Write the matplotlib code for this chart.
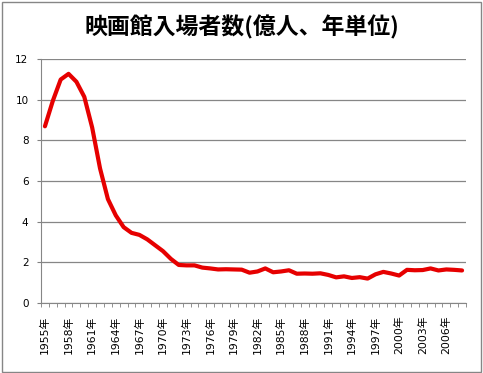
import matplotlib
matplotlib.use("Agg")
import matplotlib.pyplot as plt
from matplotlib.patches import Rectangle

# 映画館入場者数 (億人)
years = list(range(1955, 2009))
attendance = [8.69, 9.94, 10.99, 11.27, 10.88, 10.14, 8.63, 6.62, 5.11, 4.31,
              3.73, 3.45, 3.35, 3.13, 2.84, 2.55, 2.17, 1.87, 1.85, 1.85,
              1.74, 1.70, 1.65, 1.66, 1.65, 1.64, 1.49, 1.55, 1.70, 1.51,
              1.55, 1.61, 1.44, 1.45, 1.44, 1.46, 1.38, 1.26, 1.31, 1.23,
              1.27, 1.20, 1.41, 1.53, 1.45, 1.35, 1.63, 1.61, 1.62, 1.70,
              1.60, 1.65, 1.63, 1.60]
title = "映画館入場者数(億人、年単位)"

plt.rcParams['font.family'] = ['DejaVu Sans', 'Noto Sans CJK JP']

fig = plt.figure(figsize=(4.83, 3.73), dpi=100)
ax = fig.add_axes([0.0849, 0.1877, 0.8799, 0.6541])

x = list(range(len(years)))
ax.plot(x, attendance, color='#e60000', linewidth=3.0,
        solid_joinstyle='round', solid_capstyle='round', zorder=3)

ax.set_xlim(-0.5, len(years) - 0.5)
ax.set_ylim(0, 12)
ax.set_yticks(range(0, 13, 2))
ax.tick_params(axis='y', labelsize=7.5, length=3, color='#808080', pad=6)
ax.grid(axis='y', color='#868686', linewidth=0.9)

# category axis: ticks between categories, labels every 3 years
ax.set_xticks([i - 0.5 for i in range(len(years) + 1)], minor=True)
ax.set_xticks(x[::3])
ax.set_xticklabels([f"{y}年" for y in years[::3]], rotation=90,
                   fontsize=7.8)
ax.tick_params(axis='x', which='major', length=0, pad=9)
ax.tick_params(axis='x', which='minor', length=3, color='#808080')

for side in ['top', 'right']:
    ax.spines[side].set_visible(False)
for side in ['left', 'bottom']:
    ax.spines[side].set_color('#868686')

fig.text(0.5, 0.927, title, ha='center', va='center', fontsize=16.5,
         fontweight='bold', family=['Noto Sans CJK JP', 'DejaVu Sans'])

fig.patches.append(Rectangle((0.004, 0.004), 0.991, 0.991,
                             transform=fig.transFigure, fill=False,
                             edgecolor='#868686', linewidth=1))

fig.savefig("out.png", dpi=100)
